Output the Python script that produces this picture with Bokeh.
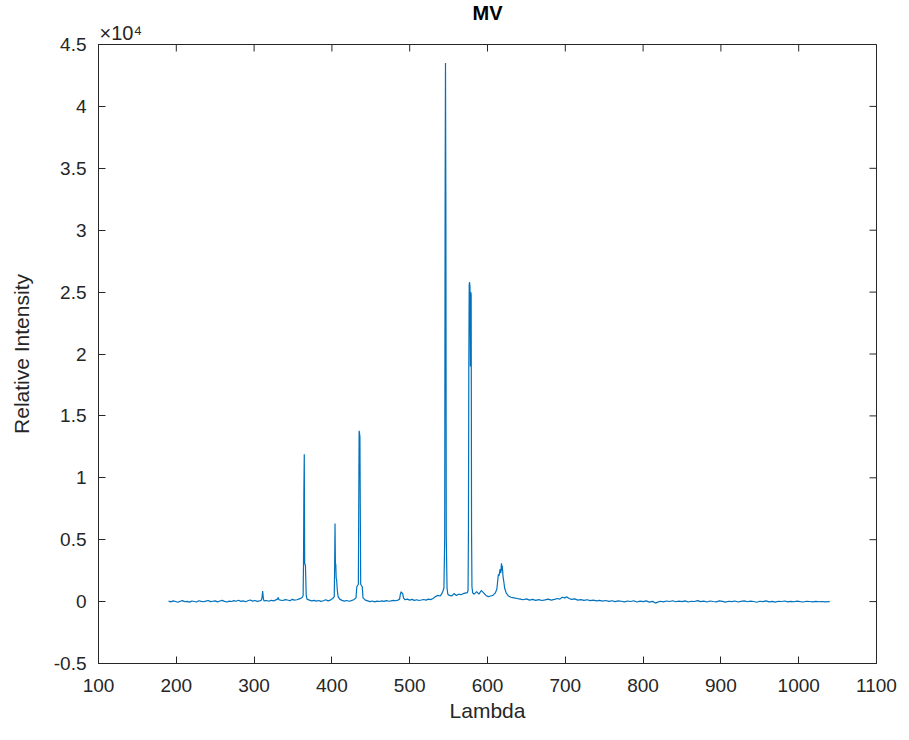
from bokeh.plotting import figure
from bokeh.models import FixedTicker, Range1d, Title
from bokeh.embed import file_html
from bokeh.resources import INLINE

# ---- data: emission spectrum (wavelength in nm, relative intensity) ----
lam = [
    190, 193, 196, 199, 202, 205, 208, 211, 214, 217,
    220, 223, 226, 229, 232, 235, 238, 241, 244, 247,
    250, 253, 256, 259, 262, 265, 268, 271, 274, 277,
    280, 283, 286, 289, 292, 295, 298, 301, 304, 307,
    309, 310, 311, 312, 313, 316, 319, 322, 325, 328,
    330, 331, 332, 334, 337, 340, 343, 346, 349, 352,
    355, 358, 360, 362, 363, 363.5, 364, 364.5, 365, 365.5,
    366, 367, 368, 371, 374, 377, 380, 383, 386, 389,
    392, 395, 398, 401, 403, 403.5, 404, 404.5, 405, 405.5,
    406, 407, 408, 410, 413, 416, 419, 422, 425, 428,
    431, 432, 433, 434, 435, 435.5, 436, 437, 438, 439,
    440, 443, 446, 449, 452, 455, 458, 461, 464, 467,
    470, 473, 476, 479, 482, 485, 487, 488, 489, 490,
    491, 492, 494, 497, 500, 503, 506, 509, 512, 515,
    518, 521, 524, 527, 530, 533, 536, 539, 541, 543,
    544, 545, 545.5, 546, 546.5, 547, 548, 549, 551, 554,
    557, 560, 563, 566, 569, 572, 574, 575, 575.5, 576,
    576.5, 577, 577.5, 578, 578.5, 579, 579.5, 580, 581, 583,
    586, 589, 592, 595, 598, 601, 604, 607, 610, 612,
    613, 614, 615, 616, 617, 618, 618.5, 619, 620, 621,
    622, 624, 627, 630, 634, 638, 642, 646, 650, 654,
    658, 662, 666, 670, 674, 678, 682, 686, 690, 693,
    696, 699, 702, 705, 708, 712, 716, 720, 724, 728,
    732, 736, 740, 744, 748, 752, 756, 760, 764, 768,
    772, 776, 780, 784, 788, 792, 796, 800, 804, 808,
    812, 816, 818, 822, 826, 830, 834, 838, 842, 846,
    850, 854, 858, 862, 866, 870, 874, 878, 882, 886,
    890, 894, 898, 902, 906, 910, 914, 918, 922, 926,
    930, 934, 938, 942, 946, 950, 954, 958, 962, 966,
    970, 974, 978, 982, 986, 990, 994, 998, 1002, 1006,
    1010, 1014, 1018, 1022, 1026, 1030, 1034, 1038, 1040,
]
intensity = [
    40, -20, 60, 10, -50, 30, 80, -10, 20, -40,
    50, 10, -30, 70, 20, -10, 40, 90, 0, 30,
    60, -20, 50, 100, 20, -30, 40, 10, 80, 30,
    110, 20, 60, -10, 70, 130, 40, 90, 20, 60,
    100, 250, 850, 180, 60, 90, 30, 110, 60, 140,
    200, 330, 150, 120, 90, 160, 130, 70, 180, 120,
    150, 220, 260, 350, 500, 3100, 9000, 11900, 3100, 3000,
    2900, 500, 200, 120, 60, 100, 40, 90, 20, 70,
    150, 60, 120, 250, 400, 2600, 6300, 3100, 3000, 1900,
    1800, 900, 400, 200, 100, 40, 90, 30, 80, 150,
    300, 1200, 1300, 1400, 13800, 13600, 13300, 1400, 1300, 1200,
    300, 120, 60, 0, 50, -20, 40, 10, 60, 20,
    80, 30, 60, 100, 70, 120, 200, 600, 800, 700,
    650, 300, 150, 200, 120, 180, 100, 150, 90, 130,
    170, 120, 200, 160, 250, 400, 500, 450, 600, 900,
    1100, 5200, 31700, 43500, 31800, 5200, 1100, 600, 500, 450,
    650, 500, 600, 550, 650, 700, 700, 900, 5700, 19500,
    25600, 25800, 25400, 19000, 25000, 24800, 5700, 1200, 700, 600,
    800, 600, 900, 700, 500, 400, 450, 500, 700, 1000,
    1600, 2200, 2100, 2600, 2300, 3100, 2500, 2900, 2000, 1600,
    1100, 700, 450, 350, 300, 250, 200, 150, 220, 120,
    180, 100, 160, 90, 140, 200, 120, 180, 250, 200,
    350, 300, 380, 250, 180, 220, 120, 160, 100, 150,
    80, 120, 60, 100, 40, 90, 20, 70, 0, 60,
    30, -20, 50, 10, 70, -30, 40, 0, 60, -40,
    20, -120, -60, 30, -20, 50, 10, 70, -10, 40,
    0, 60, -30, 30, 10, 80, 0, 40, -30, 50,
    10, -20, 60, 20, -40, 30, 0, 50, -30, 20,
    60, -10, 40, 10, -50, 30, 0, 60, -20, 20,
    -40, 30, 10, 50, -20, 20, -10, 40, 0, -30,
    30, 10, -20, 20, -10, 10, -20, 0, -10,
]
assert len(lam) == len(intensity)

x_ticks = [100, 200, 300, 400, 500, 600, 700, 800, 900, 1000, 1100]
y_ticks = [-5000, 0, 5000, 10000, 15000, 20000, 25000, 30000, 35000, 40000, 45000]
y_tick_labels = ["-0.5", "0", "0.5", "1", "1.5", "2", "2.5", "3", "3.5", "4", "4.5"]

FONT = "Liberation Sans"
DARK = "#262626"
LINE = "#0072BD"

X0, X1 = 100, 1100
Y0, Y1 = -5000, 45000
W, H = 909, 740
ML, MR, MT, MB = 98, 33, 44, 77
TICK_PX = 7

p = figure(
    width=W, height=H,
    x_range=Range1d(X0, X1), y_range=Range1d(Y0, Y1),
    output_backend="svg", toolbar_location=None,
    min_border_left=ML, min_border_right=MR,
    min_border_top=MT, min_border_bottom=MB,
)
p.background_fill_color = "white"
p.border_fill_color = "white"
p.outline_line_color = DARK
p.outline_line_width = 1
p.xgrid.visible = False
p.ygrid.visible = False

# exponent marker (inner title, left aligned)
exp_title = Title(text="×10⁴", align="left", text_font=FONT, text_font_size="20px",
                  text_font_style="normal", text_color=DARK, standoff=2, offset=1)
p.add_layout(exp_title, "above")
# main title (outer)
p.title.text = "MV"
p.title.align = "center"
p.title.text_font = FONT
p.title.text_font_size = "20px"
p.title.text_font_style = "bold"
p.title.text_color = "#000000"
p.title.standoff = -10

p.line(lam, intensity, line_color=LINE, line_width=1.2)

def style_axis(ax):
    ax.axis_line_color = DARK
    ax.major_tick_line_color = DARK
    ax.major_tick_in = TICK_PX
    ax.major_tick_out = 0
    ax.minor_tick_line_color = None
    ax.major_label_text_font = FONT
    ax.major_label_text_color = DARK
    ax.major_label_text_font_size = "19px"
    ax.axis_label_text_font = FONT
    ax.axis_label_text_font_size = "21px"
    ax.axis_label_text_font_style = "normal"
    ax.axis_label_text_color = DARK

xa = p.xaxis[0]
xa.ticker = FixedTicker(ticks=x_ticks)
xa.axis_label = "Lambda"
style_axis(xa)
xa.major_label_standoff = 15
xa.axis_label_standoff = 4

ya = p.yaxis[0]
ya.ticker = FixedTicker(ticks=y_ticks)
ya.major_label_overrides = {t: s for t, s in zip(y_ticks, y_tick_labels)}
ya.axis_label = "Relative Intensity"
style_axis(ya)
ya.major_label_standoff = 12
ya.axis_label_standoff = 18

# inward ticks on the top and right edges of the box (from the tick arrays)
dy = (Y1 - Y0) / (H - MT - MB) * TICK_PX
dx = (X1 - X0) / (W - ML - MR) * TICK_PX
p.segment(x0=x_ticks, y0=[Y1] * len(x_ticks), x1=x_ticks, y1=[Y1 - dy] * len(x_ticks),
          line_color=DARK, line_width=1)
p.segment(x0=[X1] * len(y_ticks), y0=y_ticks, x1=[X1 - dx] * len(y_ticks), y1=y_ticks,
          line_color=DARK, line_width=1)

open("out.html", "w").write(file_html(p, INLINE))
